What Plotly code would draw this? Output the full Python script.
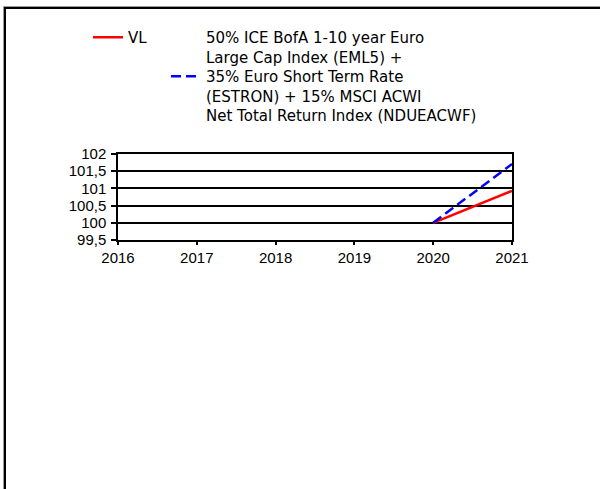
import plotly.graph_objects as go

# data
years = [2016, 2017, 2018, 2019, 2020, 2021]
vl = [None, None, None, None, 100, 100.93]
benchmark = [None, None, None, None, 100, 101.71]
vl_name = 'VL'
bench_name = ('50% ICE BofA 1-10 year Euro<br>Large Cap Index (EML5) +<br>'
              '35% Euro Short Term Rate<br>(ESTRON) + 15% MSCI ACWI<br>'
              'Net Total Return Index (NDUEACWF)')
y_ticks = [99.5, 100, 100.5, 101, 101.5, 102]

W, H = 600, 489
L, R, T, B = 118, 512, 154, 240   # plot area in pixels


def px_x(p):
    return (p - L) / (R - L)


def px_y(p):
    return (B - p) / (B - T)


FONT = 'Liberation Sans, Arial, sans-serif'
LEG_FONT = dict(family='DejaVu Sans, sans-serif', size=15, color='black')

fig = go.Figure()
fig.add_scatter(x=years, y=vl, mode='lines', name=vl_name, legend='legend',
                line=dict(color='#ff0000', width=2.5))
fig.add_scatter(x=years, y=benchmark, mode='lines', name=bench_name, legend='legend2',
                line=dict(color='#0000ff', width=2.5, dash='10px,5px'))

axis_common = dict(showline=True, linecolor='black', linewidth=1.5, mirror=True,
                   tickcolor='black', tickwidth=1.5, ticks='outside',
                   tickfont=dict(family=FONT, size=15, color='black'), zeroline=False)

fig.update_xaxes(range=[2016, 2021], tickvals=years, showgrid=False,
                 ticklen=3, ticklabelstandoff=0, **axis_common)
fig.update_yaxes(range=[99.5, 102], tickvals=y_ticks, showgrid=True, ticklen=5,
                 gridcolor='black', gridwidth=1.5, ticklabelstandoff=2, **axis_common)

# outer frame
fig.add_shape(type='rect', xref='paper', yref='paper',
              x0=px_x(3.5), x1=px_x(W + 20), y0=px_y(6.5), y1=px_y(H + 20),
              line=dict(color='#9a9a9a', width=1))
fig.add_shape(type='rect', xref='paper', yref='paper',
              x0=px_x(5), x1=px_x(W + 20), y0=px_y(8), y1=px_y(H + 20),
              line=dict(color='black', width=2))

leg_common = dict(orientation='v', xanchor='left', yanchor='top', font=LEG_FONT,
                  bgcolor='rgba(0,0,0,0)', itemwidth=30)

fig.update_layout(
    width=W, height=H, autosize=False,
    margin=dict(l=L, r=W - R, t=T, b=H - B, pad=0),
    paper_bgcolor='white', plot_bgcolor='white',
    separators=', ',
    font=dict(family=FONT, size=15, color='black'),
    showlegend=True,
    legend=dict(x=px_x(88), y=px_y(21), **leg_common),
    legend2=dict(x=px_x(166), y=px_y(21), **leg_common),
)

fig.write_html("out.html", config={'displayModeBar': False},
               post_script="document.body.style.margin='0';")
